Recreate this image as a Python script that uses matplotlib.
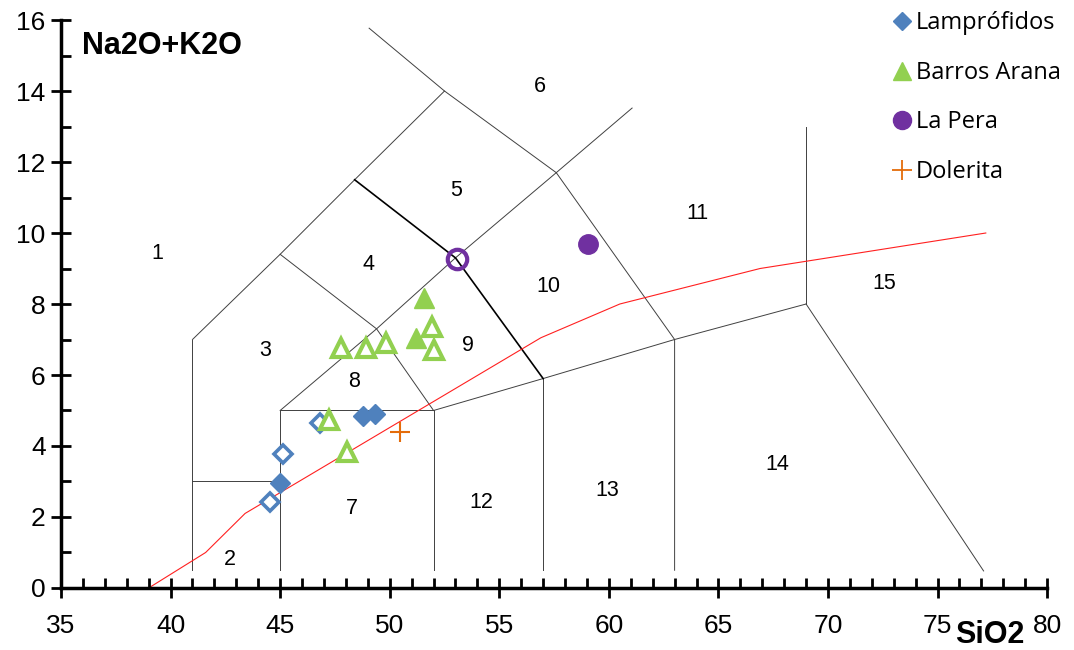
import matplotlib
matplotlib.use("Agg")
import matplotlib.pyplot as plt
from matplotlib.lines import Line2D
from matplotlib.ticker import MultipleLocator

# --- Samples: SiO2 (x) and Na2O+K2O (y) ---
lamp_filled_x = [45.0, 48.8, 49.35]
lamp_filled_y = [2.96, 4.85, 4.90]
lamp_open_x = [44.55, 45.13, 46.82]
lamp_open_y = [2.42, 3.77, 4.65]

barros_filled_x = [51.2, 51.57]
barros_filled_y = [7.04, 8.17]
barros_open_x = [47.78, 48.92, 49.83, 51.93, 52.02, 47.25, 48.05]
barros_open_y = [6.76, 6.76, 6.90, 7.35, 6.70, 4.73, 3.83]

pera_filled_x = [59.05]
pera_filled_y = [9.69]
pera_open_x = [53.07]
pera_open_y = [9.27]

dolerita_x = [50.47]
dolerita_y = [4.39]

# Alkaline / subalkaline divide
divide_x = [39.0, 41.6, 43.4, 56.9, 60.5, 66.9, 77.2]
divide_y = [0.0, 1.0, 2.1, 7.05, 8.0, 9.0, 10.0]

# TAS field boundaries (thin)
thin_bounds = [
    ([41, 41], [0.5, 7]),
    ([41, 45, 48.4, 52.5, 57.6, 63, 63], [7, 9.4, 11.5, 14, 11.7, 7, 0.5]),
    ([52.5, 49.06], [14, 15.77]),
    ([57.6, 61.06], [11.7, 13.52]),
    ([45, 49.4, 53, 57.6], [5, 7.3, 9.3, 11.7]),
    ([45, 49.4, 52], [9.4, 7.3, 5]),
    ([41, 45], [3, 3]),
    ([45, 45, 52, 52], [0.5, 5, 5, 0.5]),
    ([52, 57, 63, 69], [5, 5.9, 7, 8]),
    ([69, 69], [13, 8]),
    ([69, 77.1], [8, 0.48]),
    ([57, 57], [5.9, 0.5]),
]
# Bolder boundary
bold_bounds = [([48.4, 53, 57], [11.5, 9.3, 5.9])]

field_labels = ["1", "2", "3", "4", "5", "6", "7", "8", "9", "10", "11", "12", "13", "14", "15"]
field_x = [39.38, 42.71, 44.31, 49.01, 53.03, 56.86, 48.28, 48.37, 53.58, 57.23, 64.03, 54.17, 59.92, 67.68, 72.56]
field_y = [9.41, 0.79, 6.7, 9.1, 11.21, 14.14, 2.25, 5.83, 6.82, 8.48, 10.56, 2.42, 2.76, 3.49, 8.59]

BLUE = "#4F81BD"
GREEN = "#92D050"
PURPLE = "#7030A0"
ORANGE = "#E46C0A"

plt.rcParams["font.family"] = ["Liberation Sans", "DejaVu Sans"]

fig = plt.figure(figsize=(10.74, 6.5), dpi=100)
ax = fig.add_axes([0.0568, 0.0954, 0.9182, 0.8738])

for xs, ys in thin_bounds:
    ax.plot(xs, ys, color="#404040", lw=0.7, zorder=1)
for xs, ys in bold_bounds:
    ax.plot(xs, ys, color="black", lw=1.2, zorder=1)
ax.plot(divide_x, divide_y, color="#FF2020", lw=0.8, zorder=1)

for t, x, y in zip(field_labels, field_x, field_y):
    ax.text(x, y, t, fontsize=15.5, ha="center", va="center", zorder=2)

# Samples
ax.plot(lamp_filled_x, lamp_filled_y, "D", color=BLUE, ms=10, mec=BLUE, ls="none", zorder=3)
ax.plot(lamp_open_x, lamp_open_y, "D", mfc="white", mec=BLUE, mew=2.6, ms=9.5, ls="none", zorder=3)
ax.plot(barros_filled_x, barros_filled_y, "^", color=GREEN, ms=15, ls="none", zorder=3)
ax.plot(barros_open_x, barros_open_y, "^", mfc="white", mec=GREEN, mew=3, ms=13, ls="none", zorder=4)
ax.plot(pera_filled_x, pera_filled_y, "o", color=PURPLE, ms=14, ls="none", zorder=3)
ax.plot(pera_open_x, pera_open_y, "o", mfc="none", mec=PURPLE, mew=3, ms=14, ls="none", zorder=3)
ax.plot(dolerita_x, dolerita_y, "+", color=ORANGE, ms=14, mew=1.5, ls="none", zorder=3)

ax.set_xlim(35, 80)
ax.set_ylim(0, 16)
ax.xaxis.set_major_locator(MultipleLocator(5))
ax.xaxis.set_minor_locator(MultipleLocator(1))
ax.yaxis.set_major_locator(MultipleLocator(2))
ax.yaxis.set_minor_locator(MultipleLocator(1))

for s in ["top", "right"]:
    ax.spines[s].set_visible(False)
for s in ["left", "bottom"]:
    ax.spines[s].set_linewidth(2.5)

ax.tick_params(which="major", direction="inout", length=14, width=2, labelsize=19)
ax.tick_params(which="minor", direction="in", length=7, width=2)
ax.tick_params(axis="x", which="major", pad=12)
ax.tick_params(axis="y", which="major", pad=4)

ax.text(0.021, 0.955, "Na2O+K2O", transform=ax.transAxes, fontsize=22,
        fontweight="bold", ha="left", va="center")
fig.text(0.889, 0.0, "SiO2", fontsize=22, fontweight="bold", ha="left", va="bottom")

handles = [
    Line2D([], [], marker="D", color=BLUE, ls="none", ms=9),
    Line2D([], [], marker="^", color=GREEN, ls="none", ms=13),
    Line2D([], [], marker="o", color=PURPLE, ls="none", ms=13),
    Line2D([], [], marker="+", color=ORANGE, ls="none", ms=14, mew=1.3),
]
labels = ["Lampr\u00f3fidos", "Barros Arana", "La Pera", "Dolerita"]
fig.legend(handles, labels, loc="upper left", bbox_to_anchor=(0.822, 0.997),
           frameon=False, prop={"family": "Open Sans", "size": 17},
           handlelength=0.8, handletextpad=0.2, labelspacing=1.08, borderaxespad=0)

fig.savefig("out.png", dpi=100)
